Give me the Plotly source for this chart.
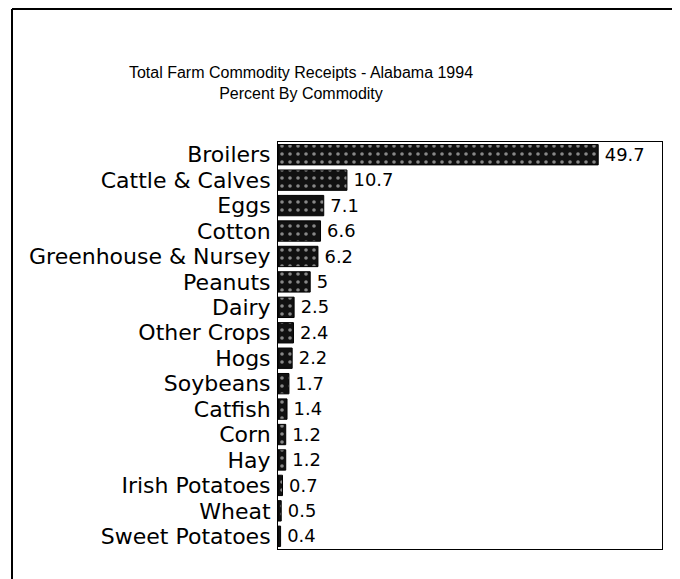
import plotly.graph_objects as go

# Alabama 1994 farm receipts, percent by commodity
commodities = ["Broilers", "Cattle & Calves", "Eggs", "Cotton", "Greenhouse & Nursey",
               "Peanuts", "Dairy", "Other Crops", "Hogs", "Soybeans", "Catfish",
               "Corn", "Hay", "Irish Potatoes", "Wheat", "Sweet Potatoes"]
percents = [49.7, 10.7, 7.1, 6.6, 6.2, 5, 2.5, 2.4, 2.2, 1.7, 1.4, 1.2, 1.2, 0.7, 0.5, 0.4]

# page has an 8px body margin, so work in page pixels and shift
OFF = 8
W, H = 680 - OFF, 579 - OFF
L, R, T, B = 278 - OFF, 18, 142 - OFF, 30
pw, ph = W - L - R, H - T - B

def px_x(x):
    return (x - OFF - L) / pw

def px_y(y):
    return (H - B - (y - OFF)) / ph

fig = go.Figure()

fig.add_trace(go.Bar(
    x=percents, y=commodities, orientation="h",
    marker=dict(color="#111111",
                line=dict(color="black", width=1),
                pattern=dict(shape=".", fgcolor="white", bgcolor="#111111",
                             size=8, solidity=0.16, fillmode="overlay")),
    text=[str(v) for v in percents], texttemplate="\u2009%{text}", textposition="outside",
    textfont=dict(family="DejaVu Sans", size=22, color="black"),
    cliponaxis=False,
))

#outer page frame
fig.add_shape(type="line", xref="paper", yref="paper",
              x0=px_x(12), x1=px_x(680), y0=px_y(9), y1=px_y(9),
              line=dict(color="black", width=2))
fig.add_shape(type="line", xref="paper", yref="paper",
              x0=px_x(12), x1=px_x(12), y0=px_y(9), y1=px_y(579),
              line=dict(color="black", width=2))

fig.update_layout(
    width=W, height=H,
    margin=dict(l=L, r=R, t=T, b=B),
    paper_bgcolor="white", plot_bgcolor="white",
    showlegend=False, bargap=0.2,
    title=dict(text="Total Farm Commodity Receipts - Alabama 1994<br>Percent By Commodity",
               x=px_x(301), xref="paper", xanchor="center",
               y=1 - 70 / H, yanchor="top",
               font=dict(family="Liberation Sans", size=16, color="black")),
)

fig.update_xaxes(range=[0, 59.6], showticklabels=False, ticks="", showgrid=False,
                 zeroline=False, showline=True, linecolor="black", linewidth=1, mirror=True)
fig.update_yaxes(range=[15.5, -0.5], showgrid=False, ticks="", ticklabelstandoff=2,
                 tickmode="array", tickvals=commodities, ticktext=commodities,
                 tickfont=dict(family="DejaVu Sans", size=22, color="black"),
                 showline=True, linecolor="black", linewidth=1, mirror=True)

fig.write_html("out.html")
